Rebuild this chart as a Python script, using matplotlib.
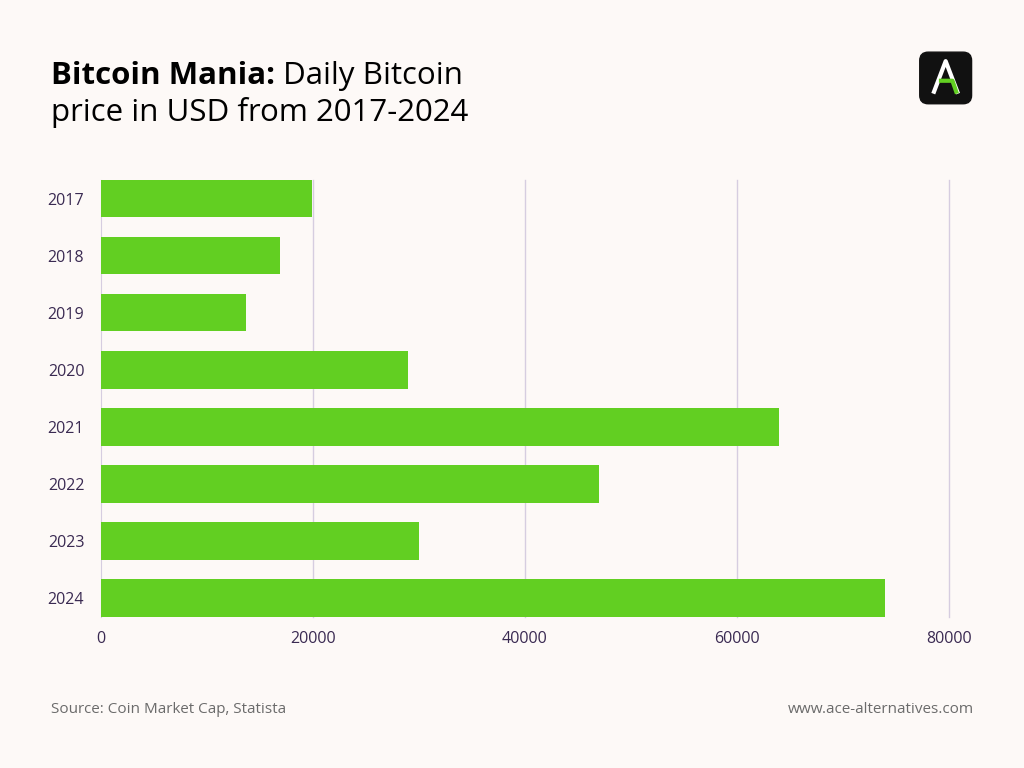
import matplotlib.pyplot as plt
from matplotlib.patches import FancyBboxPatch

years = ["2017", "2018", "2019", "2020", "2021", "2022", "2023", "2024"]
prices = [19900, 16900, 13700, 29000, 64000, 47000, 30000, 74000]
xticks = [0, 20000, 40000, 60000, 80000]

bg = "#fdf9f7"
h = 0.66
fig = plt.figure(figsize=(10.24, 7.68), dpi=100, facecolor=bg)
ax = fig.add_axes([0.0986, 0.197, 0.828, 0.569], facecolor=bg)

ax.barh(years, prices, height=h, color="#62cf22", zorder=3)
ax.set_ylim(len(years) - 1 + h / 2, -h / 2)
ax.set_xlim(0, 80000)
ax.set_xticks(xticks)
for x in xticks[1:]:
    ax.axvline(x, color="#d6cde0", linewidth=1, zorder=0, clip_on=False)
for s in ["top", "right", "bottom"]:
    ax.spines[s].set_visible(False)
ax.spines["left"].set_color("#d6cde0")
ax.tick_params(length=0, labelsize=11.5, colors="#3a2a52", pad=12)
ax.tick_params(axis="x", pad=10)
for lab in ax.get_xticklabels() + ax.get_yticklabels():
    lab.set_family("Open Sans")

t1 = fig.text(0.05, 0.89, "Bitcoin Mania:", fontsize=22.5, fontweight="bold", color="black", family="Open Sans")
fig.canvas.draw()
bb = t1.get_window_extent()
fig.text((bb.x1 + 8) / fig.bbox.width, 0.89, "Daily Bitcoin", fontsize=22.5, color="black", family="Open Sans")
fig.text(0.05, 0.843, "price in USD from 2017-2024", fontsize=22.5, color="black", family="Open Sans")

fig.text(0.05, 0.072, "Source: Coin Market Cap, Statista", fontsize=11, color="#6b6b6b", family="Open Sans")
fig.text(0.951, 0.072, "www.ace-alternatives.com", fontsize=11, color="#6b6b6b", family="Open Sans", ha="right")

lax = fig.add_axes([0.896, 0.862, 0.055, 0.073])
lax.axis("off")
lax.set_xlim(0, 1)
lax.set_ylim(0, 1)
lax.add_patch(FancyBboxPatch((0.04, 0.04), 0.92, 0.92, boxstyle="round,pad=0,rounding_size=0.15", color="#111111"))
lax.plot([0.28, 0.5, 0.72], [0.22, 0.8, 0.22], color="white", lw=3, solid_capstyle="butt")
lax.plot([0.38, 0.62, 0.7], [0.45, 0.45, 0.22], color="#62cf22", lw=3, solid_capstyle="butt")

fig.savefig("out.png", facecolor=bg)
